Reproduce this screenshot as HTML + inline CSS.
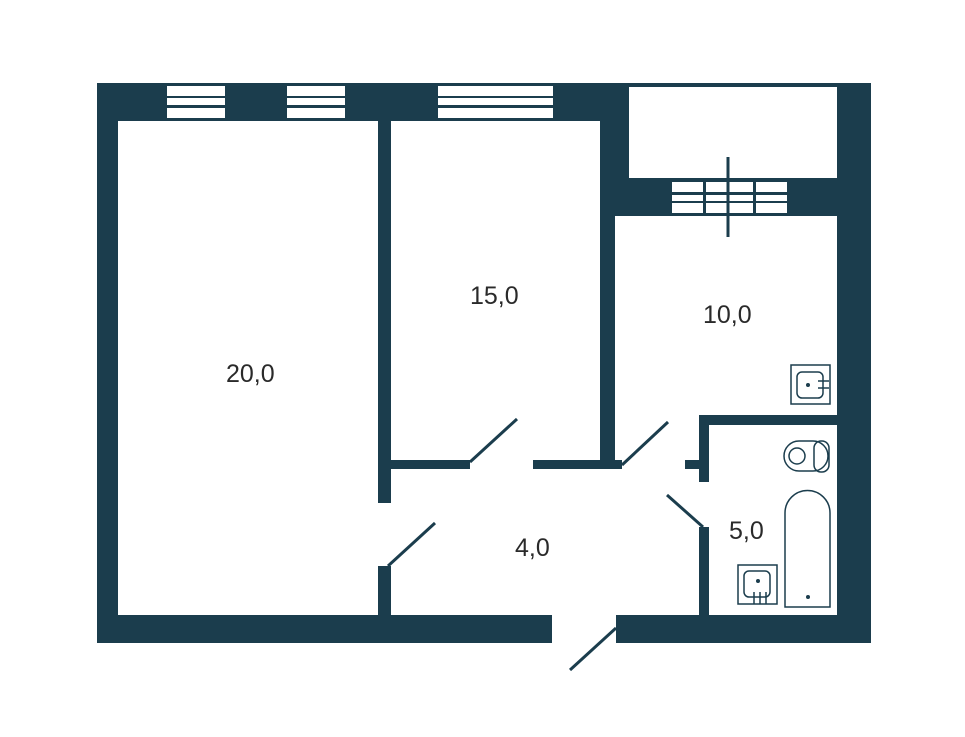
<!DOCTYPE html>
<html><head><meta charset="utf-8"><style>
html,body{margin:0;padding:0;background:#fff;width:965px;height:737px;overflow:hidden}
text{font-family:"Liberation Sans",sans-serif;font-size:24px;fill:#2a2a2a}
</style></head><body>
<svg width="965" height="737" viewBox="0 0 965 737" xmlns="http://www.w3.org/2000/svg">
<g fill="#1b3d4d">
<rect x="97" y="83" width="532" height="38"/>
<rect x="97" y="83" width="21" height="560"/>
<rect x="600" y="83" width="29" height="133"/>
<rect x="629" y="83" width="208" height="4"/>
<rect x="837" y="83" width="34" height="560"/>
<rect x="600" y="178" width="237" height="38"/>
<rect x="600" y="216" width="15" height="253"/>
<rect x="97" y="615" width="455" height="28"/>
<rect x="616" y="615" width="255" height="28"/>
<rect x="378" y="121" width="13" height="382"/>
<rect x="378" y="460" width="92" height="9"/>
<rect x="533" y="460" width="89" height="9"/>
<rect x="378" y="566" width="13" height="49"/>
<rect x="699" y="415" width="138" height="10"/>
<rect x="699" y="415" width="10" height="67"/>
<rect x="685" y="460" width="14" height="9"/>
<rect x="699" y="527" width="10" height="88"/>
</g>
<g fill="#fff">
<rect x="167" y="86" width="58" height="10"/><rect x="167" y="98" width="58" height="7"/><rect x="167" y="108" width="58" height="10"/>
<rect x="287" y="86" width="58" height="10"/><rect x="287" y="98" width="58" height="7"/><rect x="287" y="108" width="58" height="10"/>
<rect x="438" y="86" width="115" height="10"/><rect x="438" y="98" width="115" height="7"/><rect x="438" y="108" width="115" height="10"/>
<rect x="672" y="182" width="115" height="10"/><rect x="672" y="195" width="115" height="6"/><rect x="672" y="203" width="115" height="10"/>
</g>
<g fill="#1b3d4d"><rect x="703" y="180" width="3" height="35"/><rect x="753" y="180" width="3" height="35"/></g>
<g stroke="#1b3d4d" stroke-width="3" fill="none">
<line x1="728" y1="157" x2="728" y2="237"/>
<line x1="470" y1="462" x2="517" y2="419"/>
<line x1="622" y1="465" x2="668" y2="422"/>
<line x1="388" y1="566" x2="435" y2="523"/>
<line x1="667" y1="495" x2="703" y2="527"/>
<line x1="570" y1="670" x2="616" y2="628"/>
</g>
<g stroke="#1b3d4d" stroke-width="1.5" fill="none">
<rect x="791" y="365" width="39" height="39"/>
<rect x="797" y="372" width="26" height="26" rx="5"/>
<line x1="818" y1="381" x2="829" y2="381"/><line x1="818" y1="388" x2="829" y2="388"/>
<rect x="738" y="565" width="39" height="39"/>
<rect x="744" y="571" width="26" height="26" rx="5"/>
<line x1="754" y1="592" x2="754" y2="604"/><line x1="760" y1="592" x2="760" y2="604"/><line x1="766" y1="592" x2="766" y2="604"/>
<path d="M799,441 h14 a15,15 0 0 1 0,30 h-14 a15,15 0 0 1 0,-30 z"/>
<circle cx="797" cy="456" r="8"/>
<rect x="814" y="441" width="15" height="31" rx="7"/>
<path d="M785,607 V513 a22.5,22.5 0 0 1 45,0 V607 Z"/>
</g>
<g fill="#1b3d4d"><circle cx="808" cy="385" r="2"/><circle cx="758" cy="581" r="2"/><circle cx="808" cy="597" r="2"/></g>
<text x="226" y="382" style="font-size:25px">20,0</text>
<text x="470" y="304" style="font-size:25px">15,0</text>
<text x="703" y="323" style="font-size:25px">10,0</text>
<text x="515" y="556" style="font-size:25px">4,0</text>
<text x="729" y="539" style="font-size:25px">5,0</text>
</svg>
</body></html>
